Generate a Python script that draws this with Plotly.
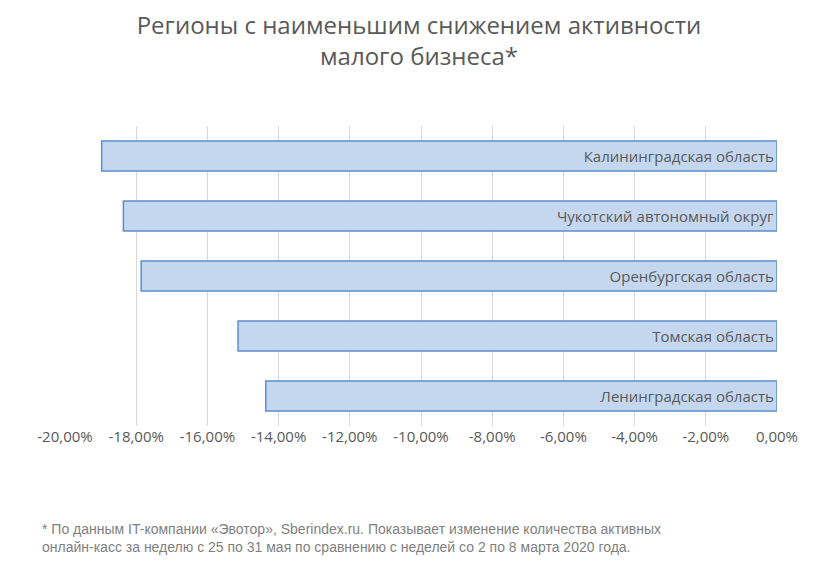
import plotly.graph_objects as go

regions = [
    "Ленинградская область",
    "Томская область",
    "Оренбургская область",
    "Чукотский автономный округ",
    "Калининградская область",
]
values = [-0.1436, -0.1514, -0.1786, -0.1836, -0.1897]
tick_vals = [-0.20, -0.18, -0.16, -0.14, -0.12, -0.10, -0.08, -0.06, -0.04, -0.02, 0.0]
tick_text = ["-20,00%", "-18,00%", "-16,00%", "-14,00%", "-12,00%", "-10,00%",
             "-8,00%", "-6,00%", "-4,00%", "-2,00%", "0,00%"]

fig = go.Figure()
fig.add_trace(
    go.Bar(
        y=regions,
        x=values,
        orientation="h",
        width=0.5,
        marker=dict(color="#c5d7ee", line=dict(color="#5b8fcc", width=1.5)),
        text=regions,
        textposition="inside",
        insidetextanchor="start",
        textfont=dict(color="#595959", size=15),
        hoverinfo="x+y",
    )
)

fig.update_layout(
    width=822,
    height=578,
    plot_bgcolor="white",
    paper_bgcolor="white",
    font=dict(family="Open Sans, Arial", color="#595959"),
    title=dict(
        text="Регионы с наименьшим снижением активности<br>малого бизнеса*",
        x=0.5,
        xanchor="center",
        y=0.955,
        yanchor="top",
        font=dict(size=24, color="#595959"),
    ),
    margin=dict(l=57, r=53, t=118, b=160),
    showlegend=False,
    bargap=0.5,
)
fig.update_xaxes(
    range=[-0.20, 0.0],
    tickvals=tick_vals,
    ticktext=tick_text,
    showgrid=True,
    gridcolor="#d9d9d9",
    gridwidth=1,
    zeroline=False,
    tickfont=dict(size=15, color="#595959"),
    ticks="",
)
fig.update_yaxes(showticklabels=False, showgrid=False, zeroline=False)

fig.add_annotation(
    text="* По данным IT-компании «Эвотор», Sberindex.ru. Показывает изменение количества активных<br>"
         "онлайн-касс за неделю с 25 по 31 мая по сравнению с неделей со 2 по 8 марта 2020 года.",
    xref="paper", yref="paper",
    x=-0.035, y=-0.31,
    xanchor="left", yanchor="top",
    align="left",
    showarrow=False,
    font=dict(family="Arial", size=14, color="#7f7f7f"),
)

fig.write_html("out.html")
